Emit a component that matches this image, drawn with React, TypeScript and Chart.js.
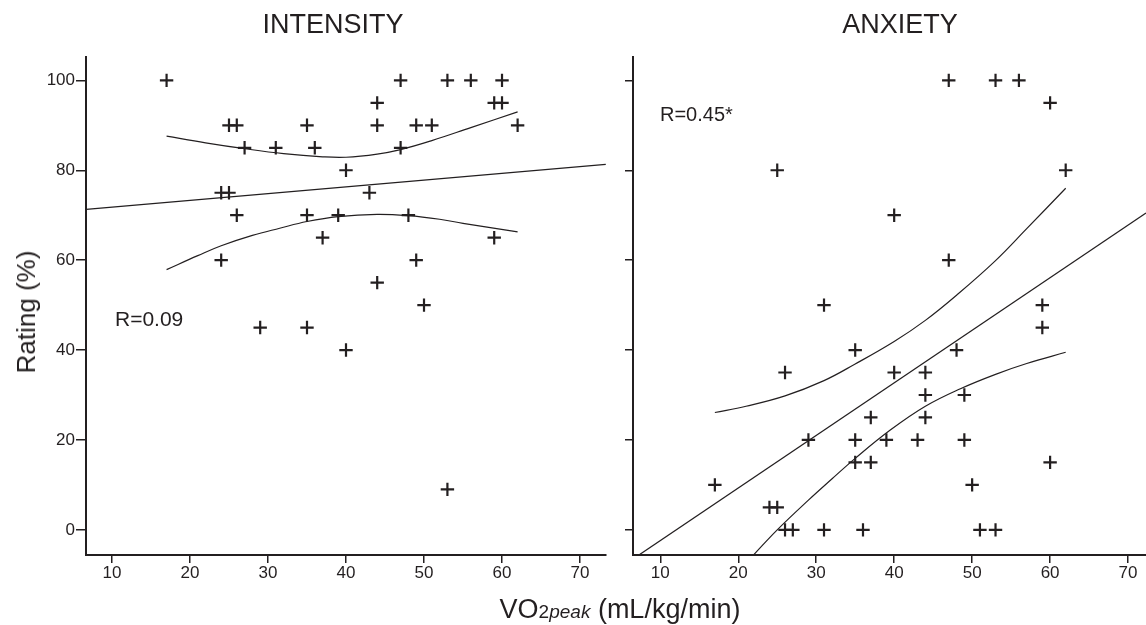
import React, { useEffect, useRef } from 'react';
import { Chart, registerables } from 'chart.js';

Chart.register(...registerables);

const FONT = '"Liberation Sans", Arial, Helvetica, sans-serif';
const INK = '#231f20';

// Axis ticks
const xTicks = [10, 20, 30, 40, 50, 60, 70];
const yTicks = [0, 20, 40, 60, 80, 100];

// INTENSITY panel: VO2peak vs rating
const intensityX = [17, 25, 26, 27, 31, 35, 36, 40, 24, 25, 26, 35, 39, 37, 24, 29, 35, 40, 43, 44, 44, 44, 47, 47, 48, 49, 51, 49, 50, 53, 56, 60, 59, 60, 62, 59, 53];
const intensityY = [100, 90, 90, 85, 85, 90, 85, 80, 75, 75, 70, 70, 70, 65, 60, 45, 45, 40, 75, 95, 90, 55, 100, 85, 70, 90, 90, 60, 50, 100, 100, 100, 95, 95, 90, 65, 9];

// INTENSITY regression line and confidence band
const intensityFitX = [6.7, 73.3];
const intensityFitY = [71.3, 81.3];
const intensityUpperX = [17, 22, 27, 32, 37, 40, 44, 47, 51, 56, 62];
const intensityUpperY = [87.6, 86.1, 84.8, 83.7, 83.0, 82.9, 83.6, 84.6, 86.6, 89.5, 93.0];
const intensityLowerX = [17, 21, 24, 28, 31.5, 35, 39, 44, 48, 52, 55, 62];
const intensityLowerY = [57.9, 61.0, 63.2, 65.5, 67.1, 68.6, 69.7, 70.2, 69.9, 69.1, 68.2, 66.3];

// ANXIETY panel: VO2peak vs rating
const anxietyX = [47, 53, 56, 60, 25, 62, 40, 47, 31, 59, 59, 35, 48, 26, 40, 44, 44, 49, 37, 44, 29, 35, 39, 43, 49, 17, 35, 37, 60, 50, 24, 25, 26, 27, 31, 36, 51, 53];
const anxietyY = [100, 100, 100, 95, 80, 80, 70, 60, 50, 50, 45, 40, 40, 35, 35, 35, 30, 30, 25, 25, 20, 20, 20, 20, 20, 10, 15, 15, 15, 10, 5, 5, 0, 0, 0, 0, 0, 0];

// ANXIETY regression line and confidence band
const anxietyFitX = [7.35, 72.3];
const anxietyFitY = [-5.5, 70.5];
const anxietyUpperX = [17, 21, 26, 31, 35, 40, 44, 48, 53, 57, 62];
const anxietyUpperY = [26.1, 27.5, 29.8, 33.2, 36.9, 41.9, 46.6, 52.2, 59.9, 67.0, 76.0];
const anxietyLowerX = [22, 25, 29, 32, 35, 39.5, 44, 48.5, 53, 57, 62];
const anxietyLowerY = [-5.5, 0, 6.6, 11.3, 15.9, 22.2, 27.5, 31.4, 34.6, 37, 39.5];

const zip = (xs: number[], ys: number[]) => xs.map((x, i) => ({ x, y: ys[i] }));

interface PanelSpec {
  points: { x: number; y: number }[];
  fit: { x: number; y: number }[];
  upper: { x: number; y: number }[];
  lower: { x: number; y: number }[];
  xMin: number;
  xMax: number;
  yAxisWidth: number;
  yTickLength: number;
  showYLabels: boolean;
  padRight: number;
}

function buildConfig(p: PanelSpec): any {
  const lineDs = (data: { x: number; y: number }[], curved: boolean) => ({
    data,
    showLine: true,
    borderColor: INK,
    backgroundColor: INK,
    borderWidth: 1.2,
    pointRadius: 0,
    pointHoverRadius: 0,
    tension: curved ? 0.4 : 0,
    fill: false,
  });
  return {
    type: 'scatter',
    data: {
      datasets: [
        lineDs(p.fit, false),
        lineDs(p.upper, true),
        lineDs(p.lower, true),
        {
          data: p.points,
          pointStyle: 'cross',
          pointRadius: 6.7,
          pointHoverRadius: 6.7,
          borderColor: INK,
          backgroundColor: INK,
          borderWidth: 2.2,
        },
      ],
    },
    options: {
      responsive: false,
      animation: false,
      events: [],
      layout: { autoPadding: false, padding: { left: 0, right: p.padRight, top: 57, bottom: 0 } },
      plugins: {
        legend: { display: false },
        tooltip: { enabled: false },
        title: { display: false },
      },
      scales: {
        x: {
          type: 'linear',
          min: p.xMin,
          max: p.xMax,
          afterBuildTicks: (s: any) => {
            s.ticks = xTicks.map((v) => ({ value: v }));
          },
          afterFit: (s: any) => {
            s.height = 70;
          },
          border: { display: true, color: INK, width: 2 },
          grid: {
            drawOnChartArea: false,
            drawTicks: true,
            tickLength: 8,
            color: INK,
            tickColor: INK,
            lineWidth: 1.5,
            tickWidth: 1.5,
          },
          ticks: {
            color: INK,
            font: { family: FONT, size: 17, lineHeight: 1 },
            padding: 2,
            maxRotation: 0,
            autoSkip: false,
          },
        },
        y: {
          type: 'linear',
          min: -5.6,
          max: 105.2,
          afterBuildTicks: (s: any) => {
            s.ticks = yTicks.map((v) => ({ value: v }));
          },
          afterFit: (s: any) => {
            s.width = p.yAxisWidth;
          },
          border: { display: true, color: INK, width: 2 },
          grid: {
            drawOnChartArea: false,
            drawTicks: true,
            tickLength: p.yTickLength,
            color: INK,
            tickColor: INK,
            lineWidth: 1.5,
            tickWidth: 1.5,
          },
          ticks: {
            display: p.showYLabels,
            color: INK,
            font: { family: FONT, size: 17, lineHeight: 1 },
            padding: 1,
            autoSkip: false,
          },
        },
      },
    },
  };
}

export default function App() {
  const leftRef = useRef<HTMLCanvasElement | null>(null);
  const rightRef = useRef<HTMLCanvasElement | null>(null);

  useEffect(() => {
    const left = new Chart(
      leftRef.current as HTMLCanvasElement,
      buildConfig({
        points: zip(intensityX, intensityY),
        fit: zip(intensityFitX, intensityFitY),
        upper: zip(intensityUpperX, intensityUpperY),
        lower: zip(intensityLowerX, intensityLowerY),
        xMin: 6.67,
        xMax: 73.33,
        yAxisWidth: 86,
        yTickLength: 10,
        showYLabels: true,
        padRight: 14,
      })
    );
    const right = new Chart(
      rightRef.current as HTMLCanvasElement,
      buildConfig({
        points: zip(anxietyX, anxietyY),
        fit: zip(anxietyFitX, anxietyFitY),
        upper: zip(anxietyUpperX, anxietyUpperY),
        lower: zip(anxietyLowerX, anxietyLowerY),
        xMin: 6.5,
        xMax: 72.3,
        yAxisWidth: 13,
        yTickLength: 8,
        showYLabels: false,
        padRight: 0,
      })
    );
    return () => {
      left.destroy();
      right.destroy();
    };
  }, []);

  const text: React.CSSProperties = {
    position: 'absolute',
    whiteSpace: 'nowrap',
    lineHeight: 1,
    color: INK,
    fontFamily: FONT,
    pointerEvents: 'none',
  };

  return (
    <div
      style={{
        position: 'absolute',
        left: 0,
        top: 0,
        width: 1146,
        height: 625,
        background: '#fff',
        overflow: 'hidden',
        fontFamily: FONT,
      }}
    >
      <div style={{ position: 'absolute', left: 0, top: 0, width: 620, height: 625 }}>
        <canvas ref={leftRef} width={620} height={625} style={{ display: 'block' }} />
      </div>
      <div style={{ position: 'absolute', left: 620, top: 0, width: 526, height: 625 }}>
        <canvas ref={rightRef} width={526} height={625} style={{ display: 'block' }} />
      </div>

      <div style={{ ...text, left: 333, top: 11, fontSize: 27, transform: 'translateX(-50%)' }}>INTENSITY</div>
      <div style={{ ...text, left: 900, top: 11, fontSize: 27, transform: 'translateX(-50%)' }}>ANXIETY</div>

      <div style={{ ...text, left: 115, top: 308, fontSize: 21 }}>R=0.09</div>
      <div style={{ ...text, left: 660, top: 104, fontSize: 20 }}>R=0.45*</div>

      <div
        style={{
          ...text,
          left: 26,
          top: 312,
          fontSize: 26,
          transform: 'translate(-50%, -50%) rotate(-90deg)',
        }}
      >
        Rating (%)
      </div>

      <div style={{ ...text, left: 620, top: 596, fontSize: 27, transform: 'translateX(-50%)' }}>
        VO<span style={{ fontSize: 19 }}>2</span>
        <span style={{ fontSize: 19, fontStyle: 'italic' }}>peak</span> (mL/kg/min)
      </div>
    </div>
  );
}
